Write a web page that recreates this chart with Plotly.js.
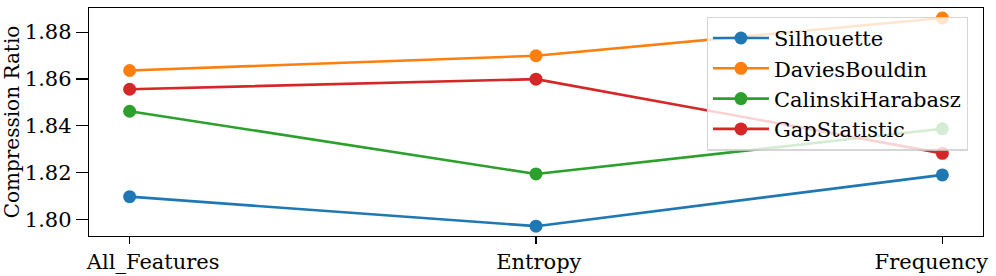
<!DOCTYPE html>
<html>
<head>
<meta charset="utf-8">
<script src="https://cdn.plot.ly/plotly-3.0.1.min.js"></script>
<style>html,body{margin:0;padding:0;background:#fff;}#chart{width:996px;height:276px;}</style>
</head>
<body>
<div id="chart"></div>
<script>
const categories = ["All_Features", "Entropy", "Frequency"];
const silhouette = [1.8097, 1.7971, 1.8190];
const daviesBouldin = [1.8636, 1.8699, 1.8860];
const calinskiHarabasz = [1.8462, 1.8194, 1.8387];
const gapStatistic = [1.8556, 1.8599, 1.8282];
const seriesNames = ["Silhouette", "DaviesBouldin", "CalinskiHarabasz", "GapStatistic"];
const seriesColors = ["#1f77b4", "#ff7f0e", "#2ca02c", "#d62728"];
const yTicks = [1.80, 1.82, 1.84, 1.86, 1.88];
// tick-label centres as they appear in the reference (slightly off the ticks)
const labelPositions = [0.058, 1.007, 1.973];

const allSeries = [silhouette, daviesBouldin, calinskiHarabasz, gapStatistic];
const traces = allSeries.map((vals, i) => ({
  x: [0, 1, 2],
  y: vals,
  name: seriesNames[i],
  type: "scatter",
  mode: "lines+markers",
  line: {color: seriesColors[i], width: 2.6},
  marker: {color: seriesColors[i], size: 13}
}));

const font = "'DejaVu Serif', serif";
const xRange = [-0.1, 2.1];
const layout = {
  width: 996, height: 276,
  margin: {l: 89, r: 13, t: 8, b: 40},
  paper_bgcolor: "#fff", plot_bgcolor: "#fff",
  font: {family: font, size: 21, color: "#000"},
  showlegend: true,
  xaxis: {
    range: xRange,
    tickvals: [0, 1, 2], showticklabels: false,
    showgrid: false, zeroline: false,
    showline: true, linecolor: "#000", linewidth: 1.2, mirror: true,
    ticks: "outside", ticklen: 7, tickwidth: 1.2, tickcolor: "#000"
  },
  xaxis2: {
    overlaying: "x", side: "bottom", anchor: "y",
    range: xRange,
    tickvals: labelPositions, ticktext: categories,
    showgrid: false, zeroline: false, showline: false,
    ticks: "outside", ticklen: 7, tickcolor: "rgba(0,0,0,0)",
    ticklabeloverflow: "allow",
    tickfont: {family: font, size: 21, color: "#000"}
  },
  yaxis: {
    range: [1.7929, 1.8903],
    tickvals: yTicks, ticktext: yTicks.map(v => v.toFixed(2)),
    showgrid: false, zeroline: false,
    showline: true, linecolor: "#000", linewidth: 1.2, mirror: true,
    ticks: "outside", ticklen: 12, tickwidth: 1.2, tickcolor: "#000",
    tickfont: {family: font, size: 21, color: "#000"},
    title: {text: "Compression Ratio", font: {family: font, size: 20, color: "#000"}, standoff: 2}
  },
  legend: {
    x: 0.691, y: 0.962, xanchor: "left", yanchor: "top",
    bgcolor: "rgba(255,255,255,0.8)",
    bordercolor: "rgba(204,204,204,0.8)", borderwidth: 1.2,
    font: {family: font, size: 21, color: "#000"},
    itemwidth: 56,
    tracegroupgap: 0
  }
};

const labelTrace = {x: labelPositions, y: [null, null, null], xaxis: "x2", yaxis: "y",
  type: "scatter", mode: "markers", showlegend: false, hoverinfo: "skip"};

Plotly.newPlot("chart", traces.concat([labelTrace]), layout, {displayModeBar: false, staticPlot: true});
</script>
</body>
</html>
